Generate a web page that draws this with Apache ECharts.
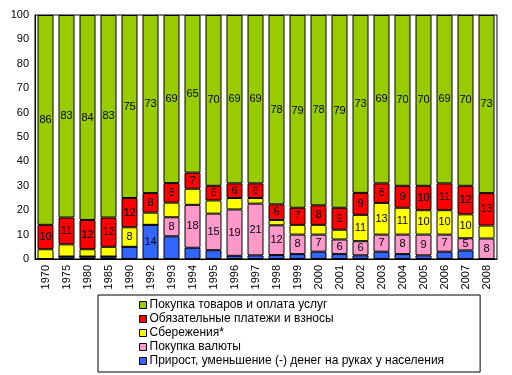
<!DOCTYPE html>
<html>
<head>
<meta charset="utf-8">
<script src="https://cdn.jsdelivr.net/npm/echarts@6/dist/echarts.min.js"></script>
<style>
  html, body { margin: 0; padding: 0; background: #fff; }
  #main { width: 512px; height: 375px; }
</style>
</head>
<body>
<div id="main"></div>
<script>
  // годы
  const years = ['1970', '1975', '1980', '1985', '1990', '1992', '1993', '1994', '1995', '1996', '1997',
    '1998', '1999', '2000', '2001', '2002', '2003', '2004', '2005', '2006', '2007', '2008']
  const cash = [0, 1, 1, 1, 5, 14, 9.3, 4.6, 3.6, 1.3, 1.5, 1.6, 2, 3, 2, 1.5, 3, 2, 1.5, 3, 3.5, 0]
  const currency = [0, 0, 0, 0, 0, 0, 7.8, 17.6, 15, 19, 21.2, 12.2, 8, 7, 6, 5.8, 7, 8, 8.5, 7, 5, 8.4]
  const savings = [4, 5, 3, 4, 8, 5, 6, 6.6, 5.4, 4.7, 2.3, 2.2, 4, 4, 4, 10.8, 13, 11, 10, 10, 9.8, 5.3]
  const payments = [10, 11, 12, 12, 12, 8, 8, 6.6, 6, 6, 6, 6.4, 7, 8, 9, 9, 8, 9, 10, 11, 11.7, 13.3]
  const goods = [86, 83, 84, 83, 75, 73, 68.9, 64.6, 70, 69, 69, 77.6, 79, 78, 79, 72.9, 69, 70, 70, 69, 70, 73]
  const yTicks = [0, 10, 20, 30, 40, 50, 60, 70, 80, 90, 100]

  const names = ['Покупка товаров и оплата услуг', 'Обязательные платежи и взносы', 'Сбережения*',
    'Покупка валюты', 'Прирост, уменьшение (-) денег на руках у населения']

  let myechart = echarts.init(document.getElementById('main'))

  function makeSeries(name, data, color, minLabel) {
    return {
      name: name,
      type: 'bar',
      stack: 'all',
      data: data,
      barWidth: 16,
      itemStyle: { color: color, borderColor: '#000', borderWidth: 1 },
      label: {
        show: true,
        position: 'inside',
        color: '#000',
        fontSize: 11,
        fontFamily: 'Liberation Sans',
        formatter: p => (p.value >= minLabel ? Math.round(p.value) : '')
      }
    }
  }

  let option = {
    animation: false,
    textStyle: { fontFamily: 'Liberation Sans' },
    grid: {
      left: 35, right: 15, top: 15, bottom: 116,
      show: true, borderColor: '#000', borderWidth: 1, backgroundColor: '#fff'
    },
    legend: {
      orient: 'vertical',
      left: 98,
      top: 295,
      padding: [4, 36, 5, 41],
      borderColor: '#000',
      borderWidth: 1,
      itemWidth: 7,
      itemHeight: 7,
      itemGap: 2,
      icon: 'rect',
      itemStyle: { borderColor: '#000', borderWidth: 1 },
      textStyle: { fontSize: 12, color: '#000', fontFamily: 'Liberation Sans', padding: [0, 0, 0, -2] },
      data: names
    },
    xAxis: {
      type: 'category',
      data: years,
      axisLine: { lineStyle: { color: '#000' } },
      axisTick: { show: false },
      axisLabel: { rotate: 90, interval: 0, color: '#000', fontSize: 11, margin: 6 }
    },
    yAxis: {
      type: 'value',
      min: 0, max: 100, interval: 10,
      splitLine: { show: false },
      axisLine: { show: true, lineStyle: { color: '#000' } },
      axisTick: { show: false },
      axisLabel: { color: '#000', fontSize: 11, margin: 6, formatter: v => (yTicks.includes(v) ? v : '') }
    },
    series: [
      makeSeries(names[4], cash, '#3366FF', 12),
      makeSeries(names[3], currency, '#FF99CC', 1),
      makeSeries(names[2], savings, '#FFFF00', 7),
      makeSeries(names[1], payments, '#FF0000', 1),
      makeSeries(names[0], goods, '#99CC00', 1)
    ]
  }
  myechart.setOption(option)
</script>
</body>
</html>
